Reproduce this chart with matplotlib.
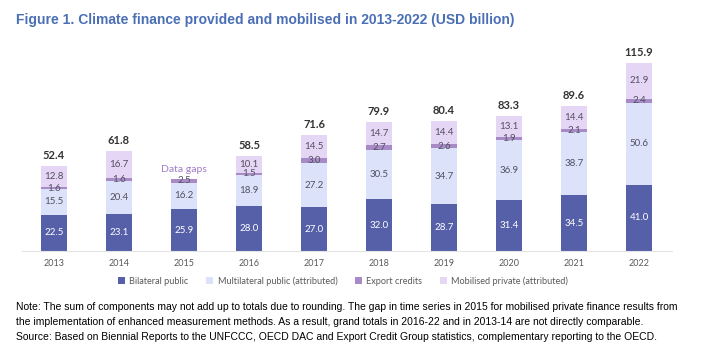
import numpy as np
import matplotlib
matplotlib.use("Agg")
import matplotlib.pyplot as plt
from matplotlib.patches import Patch

years = ['2013', '2014', '2015', '2016', '2017', '2018', '2019', '2020', '2021', '2022']
bilateral = [22.5, 23.1, 25.9, 28.0, 27.0, 32.0, 28.7, 31.4, 34.5, 41.0]
multilateral = [15.5, 20.4, 16.2, 18.9, 27.2, 30.5, 34.7, 36.9, 38.7, 50.6]
export_credits = [1.6, 1.6, 2.5, 1.5, 3.0, 2.7, 2.6, 1.9, 2.1, 2.4]
private = [12.8, 16.7, None, 10.1, 14.5, 14.7, 14.4, 13.1, 14.4, 21.9]
totals = [52.4, 61.8, None, 58.5, 71.6, 79.9, 80.4, 83.3, 89.6, 115.9]

series_names = ['Bilateral public', 'Multilateral public (attributed)',
                'Export credits', 'Mobilised private (attributed)']
colors = ['#5560a9', '#dde2fb', '#a88bc6', '#e6d6f6']
label_colors = ['white', '#505060', '#505060', '#505060']

chart_font = ['Lato', 'DejaVu Sans']
note_font = ['Liberation Sans Narrow', 'Liberation Sans', 'DejaVu Sans']

W, H = 706, 352
fig = plt.figure(figsize=(W / 100, H / 100), dpi=100)
ax = fig.add_axes([21.5 / W, 1 - 251 / H, 650 / W, 211 / H])

x = np.arange(len(years))
priv = [np.nan if v is None else v for v in private]
stack = [bilateral, multilateral, export_credits, priv]
bottom = np.zeros(len(years))
for vals, col, lc in zip(stack, colors, label_colors):
    vals = np.array(vals, dtype=float)
    h = np.nan_to_num(vals)
    ax.bar(x, h, 0.4, bottom=bottom, color=col, linewidth=0)
    for i, v in enumerate(vals):
        if np.isnan(v):
            continue
        ax.text(x[i], bottom[i] + v / 2, f'{v:.1f}', ha='center', va='center',
                fontsize=7, color=lc, family=chart_font)
    bottom = bottom + h

for i, t in enumerate(totals):
    if t is None:
        continue
    ax.text(x[i], bottom[i] + 3, f'{t:.1f}', ha='center', va='bottom',
            fontsize=8, fontweight='bold', color='#333333', family=chart_font)

ax.text(2, bottom[2] + 3, 'Data gaps', ha='center', va='bottom',
        fontsize=7.5, color='#a07cc8', family=chart_font)

ax.set_xlim(-0.5, 9.5)
ax.set_ylim(0, 130.2)
ax.set_yticks([])
ax.set_xticks(x)
ax.set_xticklabels(years, fontsize=6.5, color='#595959', family=chart_font)
ax.tick_params(axis='x', length=0, pad=6)
for s in ['top', 'right', 'left']:
    ax.spines[s].set_visible(False)
ax.spines['bottom'].set_color('#e4e4e4')
ax.spines['bottom'].set_linewidth(0.8)

handles = [Patch(facecolor=c, edgecolor='none') for c in colors]
fig.legend(handles, series_names, loc='center', bbox_to_anchor=(343 / W, 1 - 281 / H),
           ncol=4, frameon=False, handlelength=0.75, handleheight=0.75,
           handletextpad=0.5, columnspacing=1.9,
           prop={'family': chart_font, 'size': 6.6})
for t in fig.legends[0].get_texts():
    t.set_color('#595959')

fig.text(16 / W, 1 - 20 / H, 'Figure 1. Climate finance provided and mobilised in 2013-2022 (USD billion)',
         ha='left', va='center', fontsize=10, fontweight='bold', color='#4a6fb5',
         family=note_font)

notes = [
    'Note: The sum of components may not add up to totals due to rounding. The gap in time series in 2015 for mobilised private finance results from',
    'the implementation of enhanced measurement methods. As a result, grand totals in 2016-22 and in 2013-14 are not directly comparable.',
    'Source: Based on Biennial Reports to the UNFCCC, OECD DAC and Export Credit Group statistics, complementary reporting to the OECD.',
]
for k, line in enumerate(notes):
    fig.text(16 / W, 1 - (307.5 + k * 14.5) / H, line, ha='left', va='center',
             fontsize=7.5, color='black', family=note_font)

fig.savefig('out.png', dpi=100)
